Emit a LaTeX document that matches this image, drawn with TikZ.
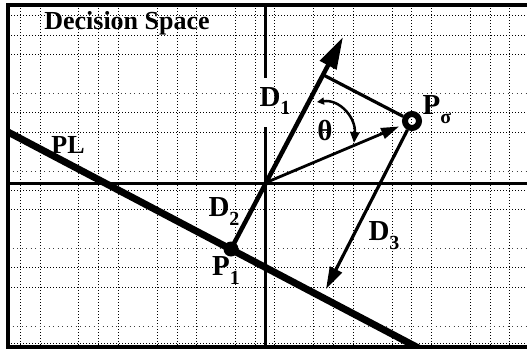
\documentclass[tikz,border=0pt]{standalone}
\usepackage{fontspec}
\setmainfont{Liberation Serif}
\usetikzlibrary{arrows.meta}
\newcommand\lblsub[2]{#1\raisebox{-9pt}{\fontsize{20}{20}\selectfont #2}}
\begin{document}
\begin{tikzpicture}[x=1pt,y=-1pt,
  gridline/.style={black, line width=1pt, dash pattern=on 1pt off 2pt},
  sparsegrid/.style={black!75, line width=0.9pt, dash pattern=on 1pt off 3.5pt},
  axisline/.style={line width=3pt},
  framel/.style={line width=3.5pt},
  lab/.style={font=\fontsize{29}{29}\selectfont\bfseries, inner sep=0pt},
  bigarrow/.style={line width=4.5pt, -{Triangle[length=32pt,width=18pt]}},
  midarrow/.style={line width=2.8pt, -{Triangle[length=18pt,width=11pt]}},
  thetaarrow/.style={line width=2.5pt, {Triangle[length=7pt,width=7pt]}-{Triangle[length=11pt,width=9pt]}},
  thinline/.style={line width=3.2pt},
]
\useasboundingbox (0,0) rectangle (527,349);
\fill[white] (0,0) rectangle (527,349);
% grid
\foreach \x in {20,40,78,98,118,157,177,196,235,255,274,313,333,353,392,411,431,470,490,509}
  \draw[gridline] (\x,5) -- (\x,347);
\foreach \y in {15,35,54,112,132,190,209,267,287,343}
  \draw[gridline] (8,\y) -- (527,\y);
\foreach \y in {93,171,248,326}
  \draw[sparsegrid] (8,\y) -- (527,\y);
% frame
\draw[framel] (527,5) -- (8,5) -- (8,347) -- (527,347);
% axes
\draw[axisline] (8,183) -- (527,183);
\draw[axisline] (265,5) -- (265,78);
\draw[axisline] (265,127) -- (265,349);
% title
\node[font=\fontsize{26}{26}\selectfont\bfseries, inner sep=0pt] (title) at (127,23) {Decision Space};
% key points
\coordinate (O) at (265,183);
\coordinate (PLa) at (8,132);
\coordinate (PLb) at (428,353);
\coordinate (F) at (322.5,74.5);
\coordinate (Dtip) at (343,37);
\coordinate (F3) at (326,289);
\coordinate (T1) at (317,102);
\coordinate (T2) at (354,143);
% line PL
\begin{scope}
  \clip (8,5) rectangle (527,347);
  \draw[line width=7pt] (PLa) -- (PLb);
\end{scope}
\node[circle, fill=black, minimum size=15pt, inner sep=0pt] (P1) at (231,249) {};
\node[circle, draw=black, line width=6pt, minimum size=14pt, inner sep=0pt] (Po) at (412,121) {};
% vectors
\draw[bigarrow] (P1.center) -- (Dtip);
\draw[thinline] (F) -- (Po);
\draw[midarrow, shorten >=4pt] (O) -- (Po);
\draw[line width=3.2pt, -{Triangle[length=22pt,width=13pt]}] (Po) -- (F3);
\draw[thetaarrow] (T1) .. controls (340,99) and (356,118) .. (T2);
% labels
\node[lab] (lD1) at (275,101) {\lblsub{D}{1}};
\node[lab] (lD2) at (224,211) {\lblsub{D}{2}};
\node[lab] (lD3) at (384,236) {\lblsub{D}{3}};
\node[lab] (lP1) at (226,270) {\lblsub{P}{1}};
\node[lab] (lPo) at (437,110) {\lblsub{P}{σ}};
\node[lab] (lth) at (325,130) {θ};
\node[font=\fontsize{26}{26}\selectfont\bfseries, inner sep=0pt] (lPL) at (68,145) {PL};
\end{tikzpicture}
\end{document}
